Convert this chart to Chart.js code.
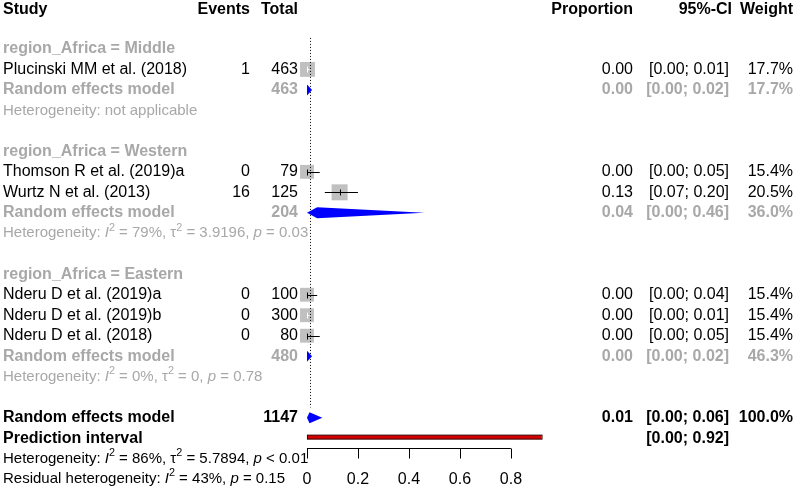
<!DOCTYPE html>
<html>
<head>
<meta charset="utf-8">
<script src="https://cdn.jsdelivr.net/npm/chart.js@4.4.0/dist/chart.umd.min.js"></script>
<style>
  body { margin: 0; background: #fff; }
  canvas { display: block; }
</style>
</head>
<body>
<canvas id="forest" width="797" height="492"></canvas>
<script>
// ---- data ----
const studies = ["Plucinski MM et al. (2018)", "Thomson R et al. (2019)a", "Wurtz N et al. (2013)",
                 "Nderu D et al. (2019)a", "Nderu D et al. (2019)b", "Nderu D et al. (2018)"];
const studyRows = [3, 8, 9, 14, 15, 16];
const events = [1, 0, 16, 0, 0, 0];
const totals = [463, 79, 125, 100, 300, 80];
const estimates = [0.002, 0.00, 0.128, 0.00, 0.00, 0.00];
const lowers = [0.00, 0.00, 0.07, 0.00, 0.00, 0.00];
const uppers = [0.01, 0.05, 0.20, 0.04, 0.01, 0.05];
const weights = [17.7, 15.4, 20.5, 15.4, 15.4, 15.4];

const groupLabels = ["region_Africa = Middle", "region_Africa = Western", "region_Africa = Eastern"];
const groupRows = [2, 7, 13];
const groupModelRows = [4, 10, 17];
const groupTotals = [463, 204, 480];
const groupEst = [0.00, 0.04, 0.00];
const groupLower = [0.00, 0.00, 0.00];
const groupUpper = [0.02, 0.46, 0.02];
const groupWeights = [17.7, 36.0, 46.3];
const groupHet = [
  "Heterogeneity: not applicable",
  "Heterogeneity: {I}^2 = 79%, τ^2 = 3.9196, {p} = 0.03",
  "Heterogeneity: {I}^2 = 0%, τ^2 = 0, {p} = 0.78"
];

const overallRow = 20;
const overallTotal = 1147;
const overallEst = 0.01, overallLower = 0.00, overallUpper = 0.06;
const predRow = 21;
const predLower = 0.00, predUpper = 0.92;
const overallHet = [
  "Heterogeneity: {I}^2 = 86%, τ^2 = 5.7894, {p} < 0.01",
  "Residual heterogeneity: {I}^2 = 43%, {p} = 0.15"
];
const xTicks = [0, 0.2, 0.4, 0.6, 0.8];

// ---- style ----
const FONT = "'Liberation Sans', Arial, sans-serif";
const GREY = "#a8a8a8";
const SQUARE = "#c0c0c0";
const COL = { study: 3, events: 250, total: 298, prop: 633, ci: 729, weight: 793 };

function squareSide(w) { return 16 * Math.sqrt(w / 20.5); }
function ci(lo, hi) { return "[" + lo.toFixed(2) + "; " + hi.toFixed(2) + "]"; }

function txt(ctx, s, x, y, align, color, bold, size) {
  ctx.font = (bold ? "bold " : "") + (size || 16) + "px " + FONT;
  ctx.fillStyle = color;
  ctx.textAlign = align;
  ctx.textBaseline = "middle";
  ctx.fillText(s, x, y);
}

// "{I}" italic, "^2" superscript
function rich(ctx, s, x, y, color, size) {
  const parts = s.split(/(\{[^}]*\}|\^\d)/).filter(p => p.length);
  ctx.fillStyle = color;
  ctx.textAlign = "left";
  ctx.textBaseline = "middle";
  parts.forEach(p => {
    let t = p, sz = size, dy = 0, st = "";
    if (p[0] === "{") { t = p.slice(1, -1); st = "italic "; }
    else if (p[0] === "^") { t = p.slice(1); sz = size * 0.72; dy = -size * 0.38; }
    ctx.font = st + sz + "px " + FONT;
    ctx.fillText(t, x, y + dy);
    x += ctx.measureText(t).width;
  });
}

const forestPlugin = {
  id: "forest",
  afterDatasetsDraw(chart) {
    const ctx = chart.ctx;
    const xs = chart.scales.x, ys = chart.scales.y;
    const X = v => xs.getPixelForValue(v);
    const Y = r => ys.getPixelForValue(r);
    ctx.save();

    // reference line at overall estimate
    ctx.strokeStyle = "#000";
    ctx.lineWidth = 1;
    ctx.setLineDash([1, 2]);
    ctx.beginPath();
    ctx.moveTo(Math.round(X(overallEst)) + 0.5, Y(1.46));
    ctx.lineTo(Math.round(X(overallEst)) + 0.5, Y(19.5));
    ctx.stroke();
    ctx.setLineDash([]);

    // study CIs
    studies.forEach((s, i) => {
      const y = Math.round(Y(studyRows[i])) + 0.5;
      const half = squareSide(weights[i]) / 2;
      const x0 = X(lowers[i]), x1 = X(uppers[i]), xe = X(estimates[i]);
      const inside = x0 >= xe - half && x1 <= xe + half;
      ctx.strokeStyle = inside ? "#fff" : "#000";
      ctx.beginPath();
      ctx.moveTo(x0, y); ctx.lineTo(x1, y);
      ctx.moveTo(Math.round(xe) + 0.5, y - 3); ctx.lineTo(Math.round(xe) + 0.5, y + 3);
      ctx.stroke();
    });

    // diamonds
    const diamond = (lo, est, hi, row) => {
      const y = Y(row);
      ctx.fillStyle = "#0000ff";
      ctx.beginPath();
      ctx.moveTo(X(lo), y);
      ctx.lineTo(X(est), y - 5.5);
      ctx.lineTo(X(hi), y);
      ctx.lineTo(X(est), y + 5.5);
      ctx.closePath();
      ctx.fill();
    };
    groupModelRows.forEach((r, g) => diamond(groupLower[g], groupEst[g], groupUpper[g], r));
    diamond(overallLower, overallEst, overallUpper, overallRow);

    // prediction interval
    const py = Y(predRow) - 1;
    ctx.fillStyle = "#d40000";
    ctx.fillRect(X(predLower), py - 2, X(predUpper) - X(predLower), 4);
    ctx.strokeStyle = "#3a0000";
    ctx.strokeRect(X(predLower) + 0.5, py - 2, X(predUpper) - X(predLower), 4);

    // x axis
    const ay = Math.round(Y(21.48)) + 0.5;
    ctx.strokeStyle = "#000";
    ctx.beginPath();
    ctx.moveTo(X(xTicks[0]), ay);
    ctx.lineTo(X(xTicks[xTicks.length - 1]), ay);
    xTicks.forEach(t => {
      ctx.moveTo(Math.round(X(t)) + 0.5, ay);
      ctx.lineTo(Math.round(X(t)) + 0.5, ay + 10);
    });
    ctx.stroke();
    xTicks.forEach(t => txt(ctx, String(t), X(t), Y(23), "center", "#000", false, 16));

    // header
    const hy = Y(0) + 2;
    txt(ctx, "Study", COL.study, hy, "left", "#000", true);
    txt(ctx, "Events", COL.events, hy, "right", "#000", true);
    txt(ctx, "Total", COL.total, hy, "right", "#000", true);
    txt(ctx, "Proportion", COL.prop, hy, "right", "#000", true);
    txt(ctx, "95%-CI", COL.ci + 3, hy, "right", "#000", true);
    txt(ctx, "Weight", COL.weight, hy, "right", "#000", true);

    // study rows
    studies.forEach((s, i) => {
      const y = Y(studyRows[i]);
      txt(ctx, s, COL.study, y, "left", "#000");
      txt(ctx, String(events[i]), COL.events, y, "right", "#000");
      txt(ctx, String(totals[i]), COL.total, y, "right", "#000");
      txt(ctx, estimates[i].toFixed(2), COL.prop, y, "right", "#000");
      txt(ctx, ci(lowers[i], uppers[i]), COL.ci, y, "right", "#000");
      txt(ctx, weights[i].toFixed(1) + "%", COL.weight, y, "right", "#000");
    });

    // subgroups
    groupLabels.forEach((g, k) => {
      txt(ctx, g, COL.study, Y(groupRows[k]), "left", GREY, true);
      const y = Y(groupModelRows[k]);
      txt(ctx, "Random effects model", COL.study, y, "left", GREY, true);
      txt(ctx, String(groupTotals[k]), COL.total, y, "right", GREY, true);
      txt(ctx, groupEst[k].toFixed(2), COL.prop, y, "right", GREY, true);
      txt(ctx, ci(groupLower[k], groupUpper[k]), COL.ci, y, "right", GREY, true);
      txt(ctx, groupWeights[k].toFixed(1) + "%", COL.weight, y, "right", GREY, true);
      rich(ctx, groupHet[k], COL.study, Y(groupModelRows[k] + 1), GREY, 15);
    });

    // overall
    const oy = Y(overallRow);
    txt(ctx, "Random effects model", COL.study, oy, "left", "#000", true);
    txt(ctx, String(overallTotal), COL.total, oy, "right", "#000", true);
    txt(ctx, overallEst.toFixed(2), COL.prop, oy, "right", "#000", true);
    txt(ctx, ci(overallLower, overallUpper), COL.ci, oy, "right", "#000", true);
    txt(ctx, "100.0%", COL.weight, oy, "right", "#000", true);
    txt(ctx, "Prediction interval", COL.study, Y(predRow), "left", "#000", true);
    txt(ctx, ci(predLower, predUpper), COL.ci, Y(predRow), "right", "#000", true);
    overallHet.forEach((h, k) => rich(ctx, h, COL.study, Y(predRow + 1 + k), "#000", 15));

    ctx.restore();
  }
};

new Chart(document.getElementById("forest"), {
  type: "scatter",
  data: {
    datasets: [{
      data: studies.map((s, i) => ({ x: estimates[i], y: studyRows[i] })),
      pointStyle: "rect",
      pointRadius: weights.map(w => squareSide(w) / 2 / Math.SQRT1_2),
      backgroundColor: SQUARE,
      borderWidth: 0,
      clip: false
    }]
  },
  options: {
    responsive: false,
    devicePixelRatio: 1,
    animation: false,
    events: [],
    layout: { padding: 0, autoPadding: false },
    plugins: { legend: { display: false }, tooltip: { enabled: false } },
    scales: {
      x: { type: "linear", min: -1.204, max: 1.922, display: false },
      y: { type: "linear", min: -0.39, max: 23.63, reverse: true, display: false }
    }
  },
  plugins: [forestPlugin]
});
</script>
</body>
</html>
